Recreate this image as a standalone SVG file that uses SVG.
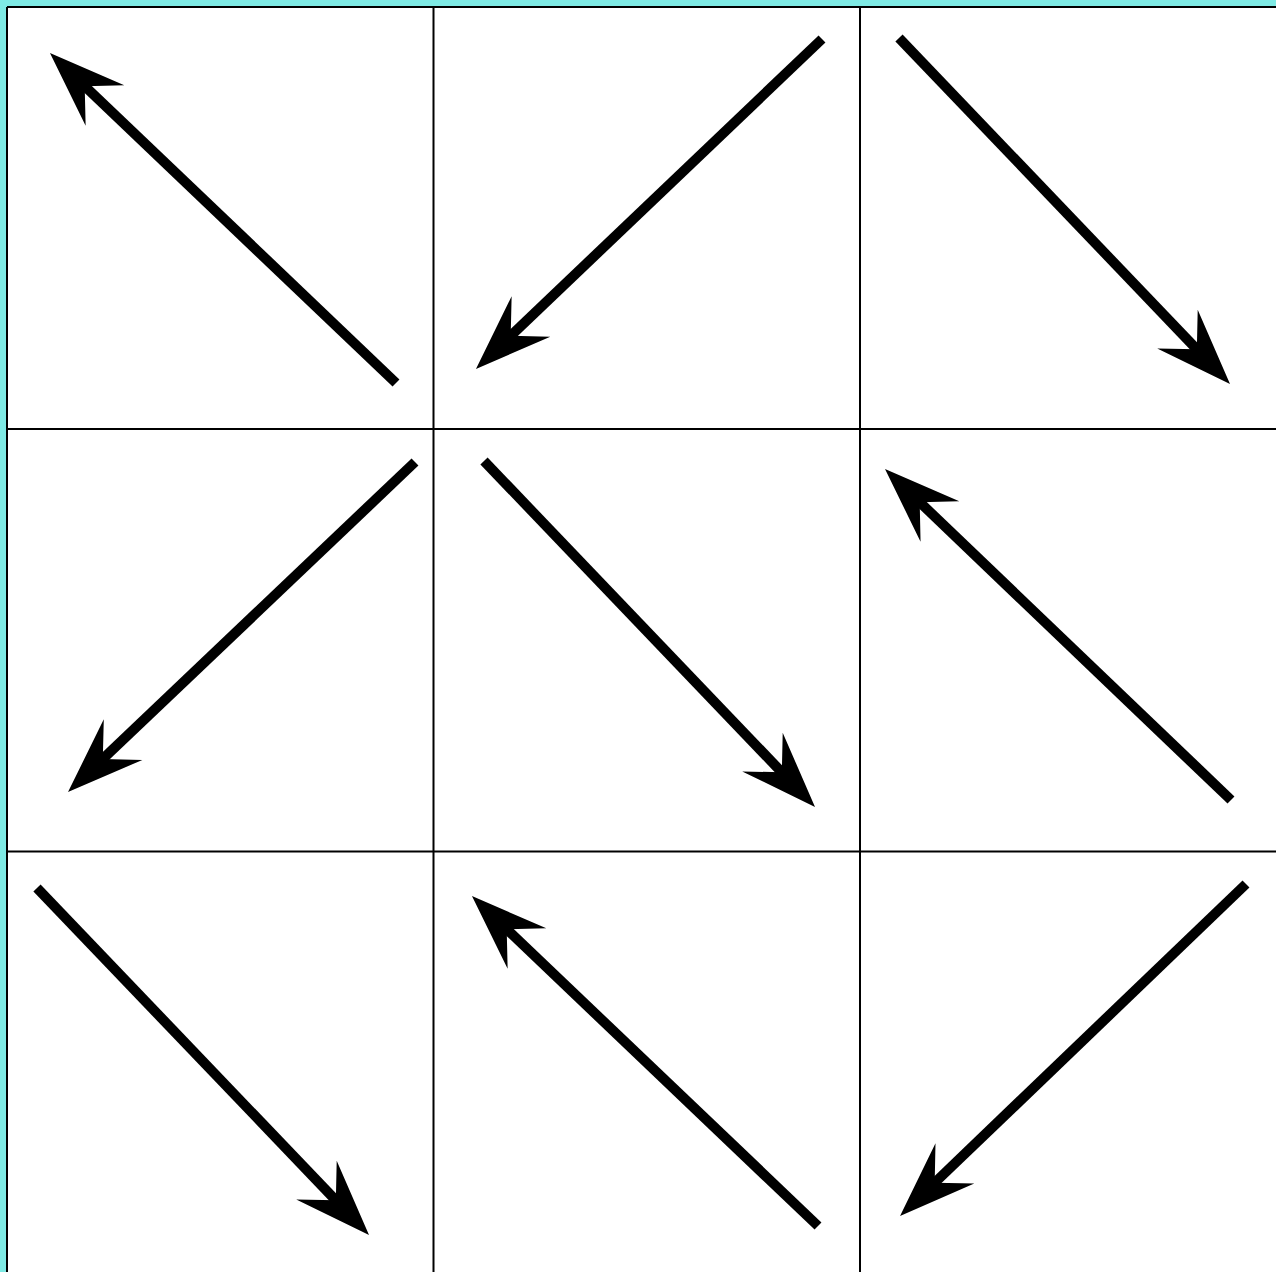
<svg xmlns="http://www.w3.org/2000/svg" width="1276" height="1272" viewBox="0 0 1276 1272">
<style>
.grid{stroke:#000;stroke-width:2;fill:none}
.arr{stroke:#000;stroke-width:10;fill:none;marker-end:url(#head)}
</style>
<defs>
<marker id="head" markerUnits="userSpaceOnUse" markerWidth="100" markerHeight="100" viewBox="-40 -40 100 80" refX="0" refY="0" orient="auto" overflow="visible">
<path d="M44,0 L-32,-28 L-4,0 L-32,28 Z" fill="#000"/>
</marker>
</defs>
<rect x="0" y="0" width="1276" height="1272" fill="#7EEAE4"/>
<rect x="7" y="7" width="1269" height="1265" fill="#fff"/>
<g id="grid">
<line class="grid" x1="7" y1="7" x2="1276" y2="7"/>
<line class="grid" x1="7" y1="7" x2="7" y2="1272"/>
<line class="grid" x1="433.5" y1="7" x2="433.5" y2="1272"/>
<line class="grid" x1="860" y1="7" x2="860" y2="1272"/>
<line class="grid" x1="7" y1="429" x2="1276" y2="429"/>
<line class="grid" x1="7" y1="851.5" x2="1276" y2="851.5"/>
</g>
<g id="connectors">
<line id="a1" class="arr" x1="396" y1="383" x2="81.8" y2="83.4"/>
<line id="a2" class="arr" x1="822" y1="39" x2="507.8" y2="338.6"/>
<line id="a3" class="arr" x1="899" y1="38" x2="1199.6" y2="352.2"/>
<line id="a4" class="arr" x1="415" y1="462" x2="99.9" y2="761.7"/>
<line id="a5" class="arr" x1="484" y1="461" x2="784.6" y2="775.2"/>
<line id="a6" class="arr" x1="1231" y1="800" x2="916.8" y2="499.4"/>
<line id="a7" class="arr" x1="37" y1="888" x2="338.6" y2="1203.2"/>
<line id="a8" class="arr" x1="818" y1="1226" x2="503.8" y2="926.4"/>
<line id="a9" class="arr" x1="1246" y1="884" x2="931.8" y2="1185.5"/>
</g>
</svg>
